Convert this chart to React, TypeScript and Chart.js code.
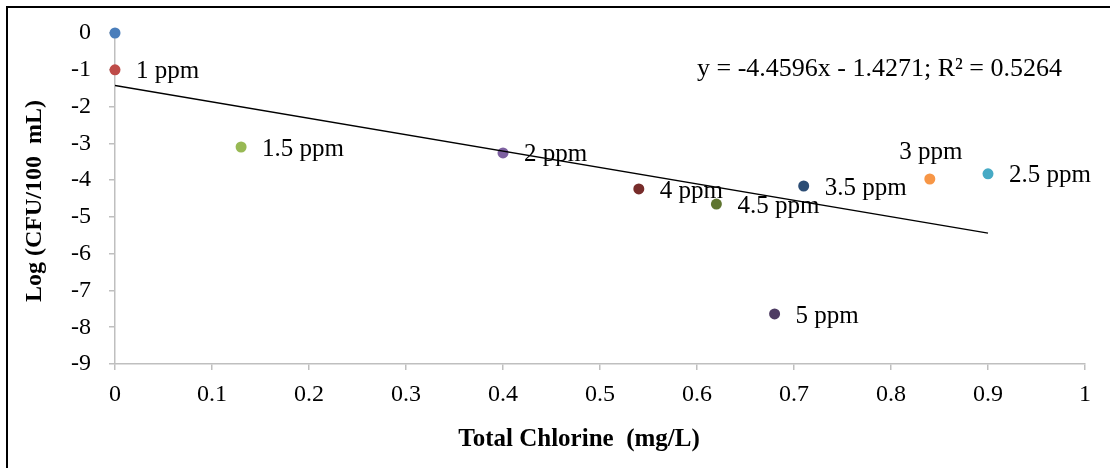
import React, { useEffect, useRef } from "react";
import { Chart, registerables } from "chart.js";

Chart.register(...registerables);

// ---- data ----
const seriesNames = ["0 ppm", "1 ppm", "1.5 ppm", "2 ppm", "2.5 ppm", "3 ppm", "3.5 ppm", "4 ppm", "4.5 ppm", "5 ppm"];
const pointLabels = ["", "1 ppm", "1.5 ppm", "2 ppm", "2.5 ppm", "3 ppm", "3.5 ppm", "4 ppm", "4.5 ppm", "5 ppm"];
const totalChlorine = [0, 0, 0.13, 0.4, 0.9, 0.84, 0.71, 0.54, 0.62, 0.68];
const logCfu = [0, -1, -3.1, -3.26, -3.83, -3.97, -4.16, -4.24, -4.65, -7.64];
const trendX = [0, 0.9];
const trendY = [-1.4271, -5.4407];
const equationText = "y = -4.4596x - 1.4271; R² = 0.5264";
const xTickLabels = ["0", "0.1", "0.2", "0.3", "0.4", "0.5", "0.6", "0.7", "0.8", "0.9", "1"];
const yTickLabels = ["-9", "-8", "-7", "-6", "-5", "-4", "-3", "-2", "-1", "0"];
const xTitle = "Total Chlorine  (mg/L)";
const yTitle = "Log (CFU/100  mL)";

// ---- styles ----
const pointColors = ["#4A7EBB", "#BE4B48", "#98B954", "#7D60A0", "#46AAC5", "#F79646", "#2C4D75", "#772C2A", "#5F7530", "#4D3B62"];
const SERIF = '"Liberation Serif", "Times New Roman", serif';
const AXIS_GRAY = "#BFBFBF";
const LABELS_ABOVE = new Set(["3 ppm"]);

const overlayPlugin = {
  id: "overlay",
  afterDatasetsDraw(chart: any) {
    const ctx = chart.ctx;
    const xs = chart.scales.x;
    const ys = chart.scales.y;
    ctx.save();
    ctx.fillStyle = "#000";
    ctx.font = `25px ${SERIF}`;
    ctx.textBaseline = "middle";
    pointLabels.forEach((lab, i) => {
      if (!lab) return;
      const px = xs.getPixelForValue(totalChlorine[i]);
      const py = ys.getPixelForValue(logCfu[i]);
      if (LABELS_ABOVE.has(lab)) {
        ctx.textAlign = "center";
        ctx.fillText(lab, px + 1, py - 27);
      } else {
        ctx.textAlign = "left";
        ctx.fillText(lab, px + 21, py + 2);
      }
    });
    // equation
    ctx.textAlign = "left";
    ctx.font = `26px ${SERIF}`;
    ctx.fillText(equationText, xs.getPixelForValue(0.6), ys.getPixelForValue(-0.98));
    // axis titles
    ctx.font = `bold 25px ${SERIF}`;
    ctx.textAlign = "center";
    ctx.fillText(xTitle, 579, 440);
    ctx.font = `bold 24px ${SERIF}`;
    ctx.save();
    ctx.translate(35, 201);
    ctx.rotate(-Math.PI / 2);
    ctx.fillText(yTitle, 0, 0);
    ctx.restore();
    // frame
    ctx.strokeStyle = "#000";
    ctx.lineWidth = 2;
    ctx.beginPath();
    ctx.moveTo(7, chart.height);
    ctx.lineTo(7, 7);
    ctx.lineTo(chart.width, 7);
    ctx.stroke();
    ctx.restore();
  },
};

export default function App() {
  const ref = useRef<HTMLCanvasElement | null>(null);
  useEffect(() => {
    if (!ref.current) return;
    const chart = new Chart(ref.current, {
      type: "scatter",
      data: {
        datasets: [
          {
            type: "line",
            label: "Linear trend",
            data: trendX.map((x, i) => ({ x, y: trendY[i] })),
            borderColor: "#000",
            borderWidth: 1.3,
            pointRadius: 0,
            fill: false,
          } as any,
          {
            label: "Log (CFU/100 mL)",
            data: totalChlorine.map((x, i) => ({ x, y: logCfu[i] })),
            backgroundColor: pointColors,
            borderColor: pointColors,
            borderWidth: 0,
            pointRadius: 5.5,
            clip: false,
          } as any,
        ],
      },
      options: {
        animation: false,
        responsive: false,
        layout: { padding: { top: 33, right: 25, left: 0, bottom: 0 } },
        plugins: { legend: { display: false }, tooltip: { enabled: false } },
        scales: {
          x: {
            type: "linear",
            min: 0,
            max: 1,
            afterBuildTicks: (s: any) => {
              s.ticks = xTickLabels.map((t) => ({ value: parseFloat(t) }));
            },
            ticks: {
              callback: (_v: any, i: number) => xTickLabels[i],
              font: { family: SERIF, size: 24 },
              color: "#000",
              padding: 10,
              maxRotation: 0,
              autoSkip: false,
            },
            grid: { drawOnChartArea: false, drawTicks: true, tickLength: 6, color: AXIS_GRAY, lineWidth: 1.5 },
            border: { color: AXIS_GRAY, width: 1.5 },
            afterFit: (s: any) => {
              s.height = 104;
            },
          },
          y: {
            type: "linear",
            min: -9,
            max: 0,
            afterBuildTicks: (s: any) => {
              s.ticks = yTickLabels.map((t) => ({ value: parseFloat(t) }));
            },
            ticks: {
              callback: (_v: any, i: number) => yTickLabels[i],
              font: { family: SERIF, size: 24 },
              color: "#000",
              padding: 18,
              autoSkip: false,
            },
            grid: { drawOnChartArea: false, drawTicks: true, tickLength: 6, color: AXIS_GRAY, lineWidth: 1.5 },
            border: { color: AXIS_GRAY, width: 1.5 },
            afterFit: (s: any) => {
              s.width = 115;
            },
          },
        },
      } as any,
      plugins: [overlayPlugin],
    });
    return () => chart.destroy();
  }, []);
  return (
    <div style={{ position: "fixed", left: 0, top: 0, width: 1110, height: 468, background: "#fff" }}>
      <canvas ref={ref} width={1110} height={468} style={{ display: "block" }} />
    </div>
  );
}
